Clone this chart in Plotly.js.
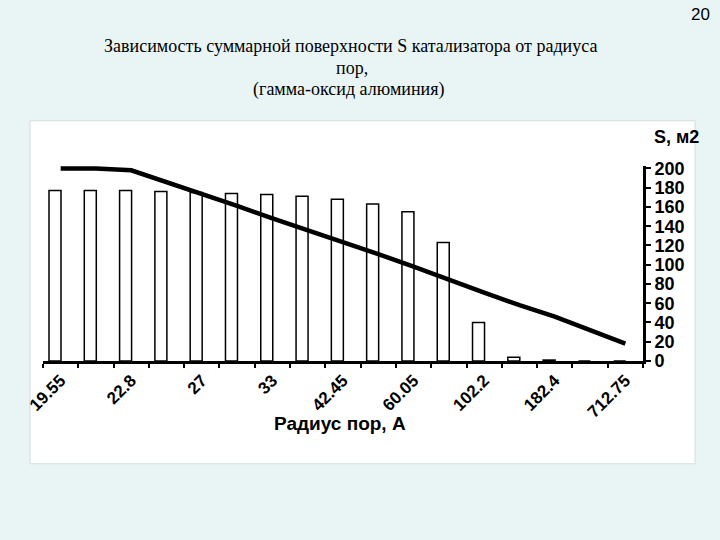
<!DOCTYPE html>
<html>
<head>
<meta charset="utf-8">
<script src="https://cdn.plot.ly/plotly-3.0.1.min.js"></script>
<style>html,body{margin:0;padding:0;background:#e9f5f5;}#chart{width:720px;height:540px;}</style>
</head>
<body>
<div id="chart"></div>
<script>
// Pore radius categories (17 classes); labels shown on every other class
const categoryIndex = [0,1,2,3,4,5,6,7,8,9,10,11,12,13,14,15,16];
const tickPositions = [0,2,4,6,8,10,12,14,16];
const tickLabels = ['19.55','22.8','27','33','42.45','60.05','102.2','182.4','712.75'];
// Bars: surface S per class, m2
const barValues = [177,177,177,176,175,174,173,171,168,163,155,123,40,4,1,0,0];
// Line: cumulative surface S, m2
const lineValues = [200,200,198,186,174,161,148,136,124,111,98,84,71,58,46,32,18];
const boundaries = categoryIndex.map(i => i - 0.5).concat([categoryIndex.length - 0.5]);

const FONT = 'Liberation Sans, Arial, sans-serif';
const SERIF = 'Liberation Serif';

const traces = [
  {
    type: 'bar', x: categoryIndex, y: barValues,
    offset: -0.33, width: 0.34,
    marker: {color: '#ffffff', line: {color: '#000000', width: 1.5}},
    showlegend: false, hoverinfo: 'x+y'
  },
  {
    type: 'scatter', mode: 'lines', x: categoryIndex, y: lineValues,
    line: {color: '#000000', width: 4.5},
    showlegend: false
  }
];

const layout = {
  width: 720, height: 540,
  paper_bgcolor: '#e9f5f5',
  plot_bgcolor: 'rgba(0,0,0,0)',
  margin: {l: 43, r: 77, t: 166, b: 179},
  xaxis: {
    range: [-0.5, 16.5], showgrid: false, zeroline: false,
    showline: true, linecolor: '#000', linewidth: 3,
    tickmode: 'array', tickvals: tickPositions, ticktext: tickLabels,
    ticks: '', tickangle: -45,
    tickfont: {family: FONT, size: 17, color: '#000', weight: 'bold'},
    minor: {tickmode: 'array', tickvals: boundaries, ticks: 'outside', ticklen: 4, tickwidth: 2, tickcolor: '#000'},
    fixedrange: true
  },
  yaxis: {
    side: 'right', range: [0, 202.5], showgrid: false, zeroline: false,
    showline: true, linecolor: '#000', linewidth: 3,
    tickmode: 'linear', tick0: 0, dtick: 20,
    ticks: 'outside', ticklen: 5, tickwidth: 2, tickcolor: '#000',
    tickfont: {family: FONT, size: 18, color: '#000', weight: 'bold'},
    fixedrange: true
  },
  shapes: [
    {type: 'rect', xref: 'paper', yref: 'paper', x0: -0.0217, x1: 1.0867, y0: -0.527, y1: 1.232,
     fillcolor: '#ffffff', line: {color: '#d4dcdc', width: 1}, layer: 'below'}
  ],
  annotations: [
    {text: 'Зависимость суммарной поверхности S катализатора от радиуса', xref: 'paper', yref: 'paper',
     x: (350 - 43) / 600, y: (360.7 - 47) / 194, xanchor: 'center', yanchor: 'middle', showarrow: false,
     font: {family: SERIF, size: 18, color: '#000'}},
    {text: 'пор,', xref: 'paper', yref: 'paper',
     x: (352 - 43) / 600, y: (360.7 - 69) / 194, xanchor: 'center', yanchor: 'middle', showarrow: false,
     font: {family: SERIF, size: 18, color: '#000'}},
    {text: '(гамма-оксид алюминия)', xref: 'paper', yref: 'paper',
     x: (349 - 43) / 600, y: (360.7 - 91) / 194, xanchor: 'center', yanchor: 'middle', showarrow: false,
     font: {family: SERIF, size: 18, color: '#000'}},
    {text: '<b>Радиус пор, А</b>', xref: 'paper', yref: 'paper', x: (340 - 43) / 600, y: (360.7 - 423) / 194,
     xanchor: 'center', yanchor: 'middle', showarrow: false,
     font: {family: FONT, size: 19, color: '#000'}},
    {text: '<b>S, м2</b>', xref: 'paper', yref: 'paper', x: 1.015, y: 1.147,
     xanchor: 'left', yanchor: 'middle', showarrow: false,
     font: {family: FONT, size: 18, color: '#000'}},
    {text: '20', xref: 'paper', yref: 'paper', x: (700 - 43) / 600, y: (360.7 - 16) / 194,
     xanchor: 'center', yanchor: 'middle', showarrow: false,
     font: {family: FONT, size: 17, color: '#000'}}
  ]
};

Plotly.newPlot('chart', traces, layout, {displayModeBar: false, staticPlot: true});
</script>
</body>
</html>
